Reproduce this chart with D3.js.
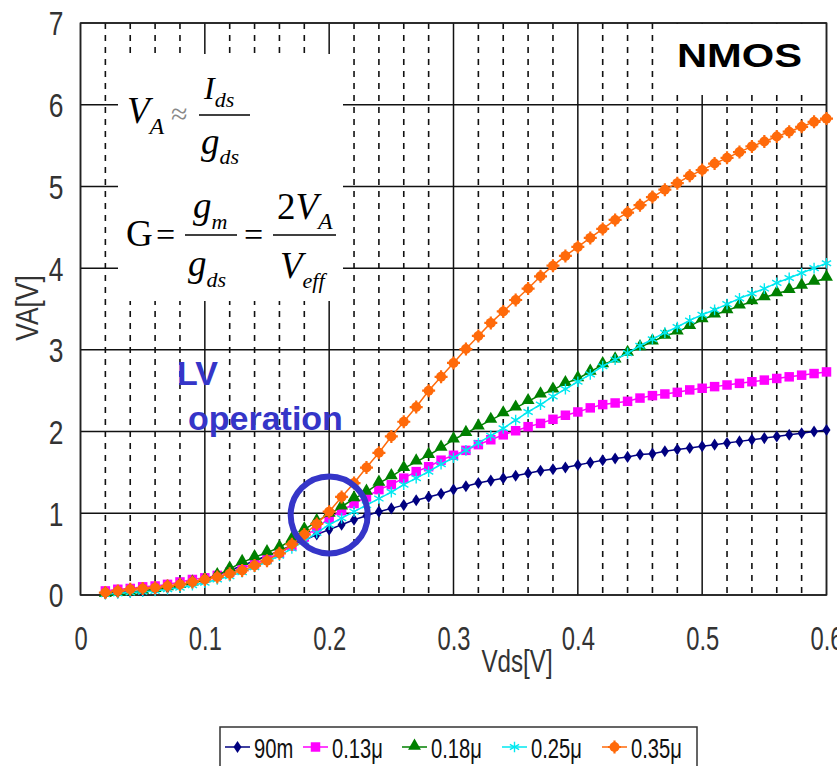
<!DOCTYPE html>
<html>
<head>
<meta charset="utf-8">
<script src="https://cdn.jsdelivr.net/npm/d3@7"></script>
<style>
  body { margin: 0; background: #fff; }
  svg { display: block; }
</style>
</head>
<body>
<div id="chart"></div>
<script>
// Vds sweep points (V)
const vds = [0.02,0.03,0.04,0.05,0.06,0.07,0.08,0.09,0.10,0.11,0.12,0.13,0.14,0.15,0.16,0.17,0.18,0.19,0.20,
  0.21,0.22,0.23,0.24,0.25,0.26,0.27,0.28,0.29,0.30,0.31,0.32,0.33,0.34,0.35,0.36,0.37,0.38,0.39,0.40,
  0.41,0.42,0.43,0.44,0.45,0.46,0.47,0.48,0.49,0.50,0.51,0.52,0.53,0.54,0.55,0.56,0.57,0.58,0.59,0.60];

// VA per gate length
const va90n = [0.02,0.03,0.04,0.05,0.07,0.09,0.12,0.15,0.19,0.24,0.30,0.36,0.42,0.48,0.54,0.61,0.67,0.74,0.80,
  0.86,0.92,0.97,1.02,1.06,1.10,1.16,1.20,1.24,1.29,1.33,1.37,1.40,1.43,1.46,1.49,1.52,1.54,1.56,1.59,
  1.62,1.65,1.67,1.69,1.72,1.73,1.76,1.78,1.80,1.82,1.84,1.86,1.88,1.90,1.92,1.94,1.96,1.98,2.00,2.02];
const va013 = [0.05,0.07,0.08,0.10,0.11,0.13,0.16,0.19,0.21,0.24,0.28,0.33,0.38,0.44,0.51,0.60,0.71,0.82,0.94,
  1.03,1.12,1.20,1.29,1.35,1.43,1.51,1.57,1.65,1.71,1.77,1.84,1.90,1.96,2.01,2.06,2.10,2.15,2.20,2.24,
  2.29,2.33,2.35,2.37,2.41,2.44,2.46,2.48,2.51,2.53,2.55,2.57,2.59,2.61,2.63,2.65,2.67,2.69,2.71,2.73];
const va018 = [0.01,0.02,0.03,0.05,0.07,0.09,0.12,0.15,0.19,0.24,0.32,0.40,0.46,0.52,0.58,0.68,0.80,0.90,0.99,
  1.08,1.18,1.26,1.37,1.45,1.55,1.63,1.71,1.80,1.90,1.98,2.06,2.14,2.22,2.29,2.37,2.45,2.51,2.59,2.65,
  2.73,2.82,2.88,2.96,3.03,3.10,3.17,3.22,3.29,3.37,3.43,3.48,3.54,3.59,3.64,3.69,3.73,3.78,3.83,3.88];
const va025 = [0.01,0.02,0.03,0.04,0.05,0.07,0.09,0.12,0.15,0.19,0.23,0.28,0.34,0.41,0.48,0.57,0.66,0.76,0.86,
  0.94,1.02,1.10,1.18,1.26,1.35,1.43,1.51,1.60,1.68,1.77,1.86,1.95,2.04,2.14,2.24,2.33,2.43,2.52,2.61,
  2.70,2.80,2.88,2.96,3.05,3.13,3.21,3.28,3.36,3.43,3.49,3.56,3.63,3.69,3.75,3.82,3.88,3.94,4.00,4.06];
const va035 = [0.03,0.05,0.07,0.08,0.09,0.11,0.13,0.16,0.19,0.22,0.26,0.30,0.36,0.42,0.51,0.62,0.74,0.87,1.02,
  1.20,1.37,1.56,1.74,1.94,2.12,2.30,2.50,2.67,2.84,3.01,3.17,3.33,3.47,3.61,3.75,3.90,4.03,4.15,4.26,
  4.37,4.48,4.59,4.68,4.77,4.87,4.96,5.04,5.13,5.20,5.28,5.35,5.42,5.49,5.55,5.61,5.67,5.73,5.79,5.83];

const seriesNames = ["90m", "0.13\u03bc", "0.18\u03bc", "0.25\u03bc", "0.35\u03bc"];
const seriesColors = ["#000080", "#ff00ff", "#008000", "#00e8f0", "#ff6a0a"];
const seriesMarks = ["diamond", "square", "triangle", "star", "dot"];

const xTicks = [0, 0.1, 0.2, 0.3, 0.4, 0.5, 0.6];
const xMinor = [0.02,0.04,0.06,0.08,0.12,0.14,0.16,0.18,0.22,0.24,0.26,0.28,0.32,0.34,0.36,0.38,
  0.42,0.44,0.46,0.48,0.52,0.54,0.56,0.58];
const yTicks = [0, 1, 2, 3, 4, 5, 6, 7];

const chart = {
  width : 837,
  height : 766,
  plot : {left: 80.5, right: 826.5, top: 23, bottom: 595},
  tickFont : "'Liberation Sans', Arial, sans-serif",
  serif : "'Liberation Serif', 'Times New Roman', serif",

  // squash text horizontally, the original uses a narrow gothic font
  squeeze : (sel, k) => {
    sel.each(function() {
      const w = this.getComputedTextLength();
      d3.select(this).attr("textLength", w * k).attr("lengthAdjust", "spacingAndGlyphs");
    });
  },

  mark : (g, type, color) => {
    if (type === "diamond") {
      g.append("path").attr("d", d3.symbol(d3.symbolDiamond, 42)())
        .attr("transform", "scale(1.15,1.0)").attr("fill", color);
    } else if (type === "square") {
      g.append("path").attr("d", d3.symbol(d3.symbolSquare, 90)()).attr("fill", color);
    } else if (type === "triangle") {
      g.append("path").attr("d", d3.symbol(d3.symbolTriangle, 72)())
        .attr("transform", "translate(0,-1)").attr("fill", color);
    } else if (type === "star") {
      g.append("path").attr("d", d3.symbol(d3.symbolAsterisk, 80)())
        .attr("fill", "none").attr("stroke", color).attr("stroke-width", 1.4);
    } else {
      g.append("circle").attr("r", 5).attr("fill", color);
      g.append("path").attr("d", "M-6.5,0H6.5M0,-6.5V6.5").attr("stroke", color).attr("stroke-width", 2.2);
    }
  },

  draw : () => {
    const {left, right, top, bottom} = chart.plot;
    const svg = d3.select("#chart").append("svg")
      .attr("width", chart.width)
      .attr("height", chart.height);

    const x = d3.scaleLinear().domain([0, 0.6]).range([left, right]);
    const y = d3.scaleLinear().domain([0, 7]).range([bottom, top]);

    // grid: dashed minor verticals, solid majors
    svg.append("g").selectAll("line").data(xMinor).join("line")
      .attr("x1", d => x(d)).attr("x2", d => x(d))
      .attr("y1", top).attr("y2", bottom)
      .attr("stroke", "#111").attr("stroke-width", 1.6)
      .attr("stroke-dasharray", "6,6");
    svg.append("g").selectAll("line").data(xTicks).join("line")
      .attr("x1", d => x(d)).attr("x2", d => x(d))
      .attr("y1", top).attr("y2", bottom)
      .attr("stroke", "#111").attr("stroke-width", 1.5);
    svg.append("g").selectAll("line").data(yTicks).join("line")
      .attr("x1", left).attr("x2", right)
      .attr("y1", d => y(d)).attr("y2", d => y(d))
      .attr("stroke", "#111").attr("stroke-width", 1.5);

    // formula box covers the grid
    svg.append("rect").attr("x", 118).attr("y", 54).attr("width", 225).attr("height", 247).attr("fill", "#fff");
    // NMOS box
    svg.append("rect").attr("x", 656).attr("y", top + 1).attr("width", 168).attr("height", 71).attr("fill", "#fff");

    // axes
    const gx = svg.append("g").attr("transform", `translate(0,${bottom})`)
      .call(d3.axisBottom(x).tickValues(xTicks).tickSize(0).tickFormat(d3.format("")));
    gx.select(".domain").remove();
    gx.selectAll("text").attr("y", 55).attr("dy", 0)
      .style("font-family", chart.tickFont).style("font-size", "33px").attr("fill", "#333");
    chart.squeeze(gx.selectAll("text"), 0.72);

    const gy = svg.append("g").attr("transform", `translate(${left},0)`)
      .call(d3.axisLeft(y).tickValues(yTicks).tickSize(0).tickFormat(d3.format("d")));
    gy.select(".domain").remove();
    gy.selectAll("text").attr("x", -17).attr("dy", "0.36em")
      .style("font-family", chart.tickFont).style("font-size", "33px").attr("fill", "#333");
    chart.squeeze(gy.selectAll("text"), 0.8);

    // axis titles
    const xt = svg.append("text").attr("x", 517).attr("y", 672).attr("text-anchor", "middle")
      .style("font-family", chart.tickFont).style("font-size", "31px").attr("fill", "#333")
      .text("Vds[V]");
    chart.squeeze(xt, 0.78);
    const yt = svg.append("text").attr("transform", "translate(38,308) rotate(-90)")
      .attr("text-anchor", "middle")
      .style("font-family", chart.tickFont).style("font-size", "31px").attr("fill", "#333")
      .text("VA[V]");
    chart.squeeze(yt, 0.85);

    // plot frame
    svg.append("path")
      .attr("d", `M${left},${top}H${right}V${bottom}H${left}Z`)
      .attr("fill", "none").attr("stroke", "#222").attr("stroke-width", 1.5);

    // series
    const allSeries = [va90n, va013, va018, va025, va035];
    const line = d3.line().x((d, i) => x(vds[i])).y(d => y(d));
    allSeries.forEach((vals, s) => {
      const g = svg.append("g");
      g.append("path").datum(vals).attr("d", line)
        .attr("fill", "none").attr("stroke", seriesColors[s]).attr("stroke-width", 1.5);
      g.selectAll("g").data(vals).join("g")
        .attr("transform", (d, i) => `translate(${x(vds[i])},${y(d)})`)
        .each(function() { chart.mark(d3.select(this), seriesMarks[s], seriesColors[s]); });
    });

    // NMOS label
    const nm = svg.append("text").attr("x", 677).attr("y", 67)
      .style("font-family", chart.tickFont).style("font-size", "33px").style("font-weight", "bold")
      .text("NMOS");
    nm.attr("textLength", 125).attr("lengthAdjust", "spacingAndGlyphs");

    // formulas, subscripts as tspans so each term is one text
    const f = svg.append("g").style("font-family", chart.serif).attr("fill", "#000");
    const t = (tx, ty, parts, fill) => {
      const el = f.append("text").attr("x", tx).attr("y", ty).attr("fill", fill || "#000");
      parts.forEach(([str, size, italic, dy]) => {
        el.append("tspan").attr("dy", dy || 0)
          .style("font-size", size + "px")
          .style("font-style", italic ? "italic" : "normal")
          .text(str);
      });
    };
    const bar = (x1, x2, yy) => f.append("line").attr("x1", x1).attr("x2", x2)
      .attr("y1", yy).attr("y2", yy).attr("stroke", "#000").attr("stroke-width", 1.6);

    t(127, 123, [["V", 37, true], ["A", 24, true, 11]]);
    t(171, 124, [["\u2248", 30, false]], "#888");
    bar(199, 250, 115);
    t(204, 99, [["I", 32, true], ["ds", 22, true, 8]]);
    t(201, 154, [["g", 37, true], ["ds", 22, true, 10]]);

    t(126, 246, [["G", 37, false]]);
    t(156, 246, [["=", 34, false]]);
    bar(185, 237, 235);
    t(193, 218, [["g", 37, true], ["m", 22, true, 11]]);
    t(188, 276, [["g", 37, true], ["ds", 22, true, 11]]);
    t(244, 246, [["=", 34, false]]);
    bar(273, 336, 235);
    t(277, 219, [["2", 37, false], ["V", 37, true], ["A", 24, true, 10]]);
    t(280, 278, [["V", 37, true], ["eff", 22, true, 10]]);

    // LV operation callout
    const blue = "#3535c8";
    svg.append("text").attr("x", 177).attr("y", 385)
      .style("font-family", chart.tickFont).style("font-size", "34px").style("font-weight", "bold")
      .attr("fill", blue).text("LV");
    svg.append("text").attr("x", 188).attr("y", 430)
      .style("font-family", chart.tickFont).style("font-size", "34px").style("font-weight", "bold")
      .attr("fill", blue).text("operation");
    svg.append("circle").attr("cx", x(0.2)).attr("cy", y(0.98)).attr("r", 38.5)
      .attr("fill", "none").attr("stroke", blue).attr("stroke-width", 6);

    // legend
    const lg = svg.append("g").attr("transform", "translate(220,727)");
    lg.append("rect").attr("width", 477).attr("height", 60)
      .attr("fill", "#fff").attr("stroke", "#333").attr("stroke-width", 1.5);
    const legX = [5, 83, 182, 282, 382];
    seriesNames.forEach((name, s) => {
      const it = lg.append("g").attr("transform", `translate(${legX[s]},0)`);
      it.append("line").attr("x1", 0).attr("x2", 25).attr("y1", 20).attr("y2", 20)
        .attr("stroke", seriesColors[s]).attr("stroke-width", 1.5);
      chart.mark(it.append("g").attr("transform", "translate(12.5,20)"), seriesMarks[s], seriesColors[s]);
      const tx = it.append("text").attr("x", 29).attr("y", 31)
        .style("font-family", chart.tickFont).style("font-size", "28px").attr("fill", "#111")
        .text(name);
      chart.squeeze(tx, 0.72);
    });
  }
};

document.addEventListener("DOMContentLoaded", chart.draw);
</script>
</body>
</html>
